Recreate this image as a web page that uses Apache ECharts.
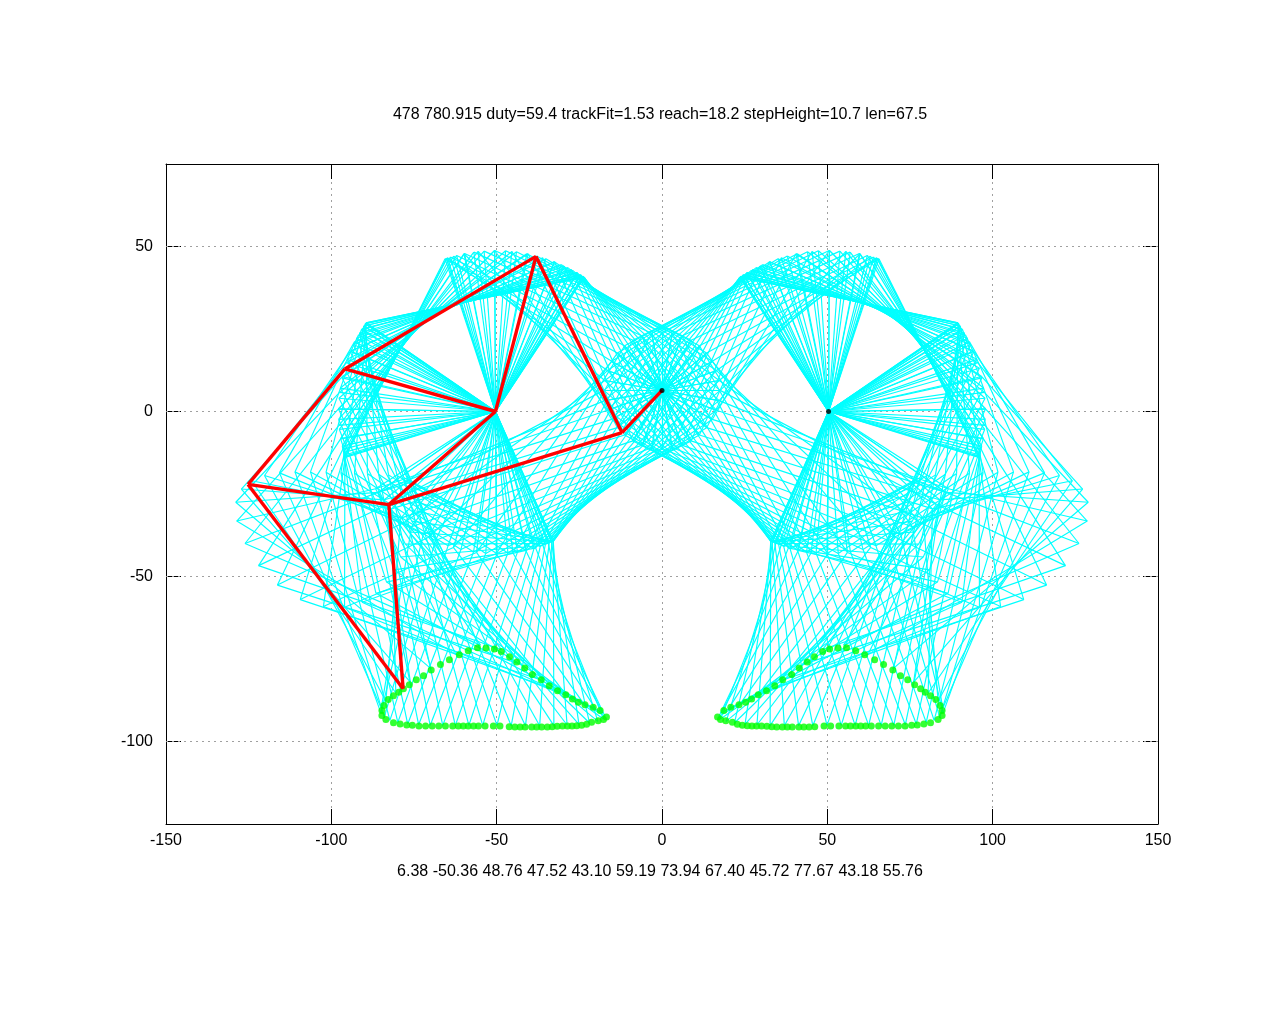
<!DOCTYPE html>
<html>
<head>
<meta charset="utf-8">
<style>html,body{margin:0;padding:0;background:#fff}#c{width:1280px;height:1024px}</style>
<script src="https://cdn.jsdelivr.net/npm/echarts@6/dist/echarts.min.js"></script>
</head>
<body>
<div id="c"></div>
<script>
const titleText = "478 780.915 duty=59.4 trackFit=1.53 reach=18.2 stepHeight=10.7 len=67.5";
const xLabelText = "6.38 -50.36 48.76 47.52 43.10 59.19 73.94 67.40 45.72 77.67 43.18 55.76";
const xTicks = [-150,-100,-50,0,50,100,150];
const yTicks = [-100,-50,0,50];

const crankCentre = [0,6.38];
const pivot = [-50.36,0];

const Ax = [17.6,17.3,16.5,15.2,13.5,11.3,8.8,6.0,3.1,0,-3.1,-6.0,-8.8,-11.3,-13.5,-15.2,-16.5,-17.3,-17.6,-17.3,-16.5,-15.2,-13.5,-11.3,-8.8,-6.0,-3.1,0,3.1,6.0,8.8,11.3,13.5,15.2,16.5,17.3];
const Ay = [6.4,9.4,12.4,15.2,17.7,19.9,21.6,22.9,23.7,24.0,23.7,22.9,21.6,19.9,17.7,15.2,12.4,9.4,6.4,3.3,0.4,-2.4,-4.9,-7.1,-8.9,-10.2,-11.0,-11.2,-11.0,-10.2,-8.9,-7.1,-4.9,-2.4,0.4,3.3];
const Bx = [-28.5,-30.4,-32.6,-35.1,-37.9,-40.9,-44.0,-47.3,-50.6,-53.8,-56.9,-59.7,-62.1,-64.0,-65.2,-65.6,-64.9,-63.0,-59.9,-55.6,-50.6,-45.4,-40.5,-36.1,-32.5,-29.6,-27.4,-25.7,-24.6,-23.9,-23.5,-23.6,-23.9,-24.6,-25.6,-26.9];
const By = [43.6,44.5,45.4,46.3,47.1,47.8,48.4,48.7,48.8,48.6,48.3,47.9,47.3,46.8,46.4,46.3,46.6,47.1,47.8,48.5,48.8,48.5,47.8,46.6,45.4,44.1,43.0,42.1,41.4,40.9,40.7,40.7,41.0,41.4,42.0,42.7];
const Cx = [-92.4,-93.3,-94.3,-95.2,-96.0,-96.8,-97.3,-97.7,-97.9,-97.8,-97.6,-97.2,-96.7,-96.2,-95.9,-95.8,-96.0,-96.5,-97.2,-97.7,-97.9,-97.5,-96.7,-95.5,-94.2,-93.0,-91.8,-90.9,-90.2,-89.7,-89.5,-89.5,-89.8,-90.2,-90.8,-91.5];
const Cy = [22.2,20.3,18.2,15.8,13.1,10.2,7.1,4.0,0.8,-2.4,-5.4,-8.2,-10.5,-12.4,-13.6,-13.9,-13.2,-11.4,-8.3,-4.2,0.7,5.8,10.6,14.8,18.3,21.1,23.2,24.8,25.9,26.6,26.9,26.9,26.6,25.9,25.0,23.8];
const Dx = [-38.7,-36.8,-35.3,-34.1,-33.3,-32.9,-32.9,-33.4,-34.4,-36.0,-38.2,-41.2,-45.1,-50.1,-56.1,-63.1,-70.6,-77.6,-83.0,-85.9,-86.6,-85.8,-84.1,-81.8,-79.0,-75.7,-72.2,-68.5,-64.7,-60.8,-57.0,-53.3,-49.9,-46.6,-43.7,-41.0];
const Dy = [-41.5,-40.9,-40.4,-39.9,-39.6,-39.4,-39.4,-39.6,-40.0,-40.6,-41.4,-42.1,-42.8,-43.1,-42.7,-41.2,-38.1,-33.4,-28.2,-24.5,-23.4,-24.5,-26.8,-29.5,-32.3,-34.9,-37.2,-39.1,-40.7,-41.8,-42.6,-43.0,-43.1,-42.9,-42.6,-42.1];
const Ex = [-76.6,-75.5,-74.9,-74.6,-74.7,-75.1,-75.7,-76.5,-77.6,-79.0,-80.9,-83.3,-86.5,-90.7,-96.0,-102.4,-109.4,-116.3,-122.0,-126.1,-128.6,-128.9,-127.2,-124.1,-120.2,-115.7,-111.0,-106.3,-101.6,-97.1,-93.0,-89.1,-85.7,-82.7,-80.1,-78.1];
const Ey = [-20.7,-21.8,-23.2,-25.0,-27.3,-30.0,-33.2,-36.5,-40.2,-44.1,-48.0,-51.7,-55.1,-57.8,-59.3,-59.1,-57.0,-52.6,-46.7,-40.0,-33.2,-27.5,-23.5,-21.0,-19.4,-18.6,-18.3,-18.3,-18.4,-18.5,-18.7,-18.8,-19.0,-19.2,-19.4,-20.0];
const Fx = [-54.2,-49.9,-45.6,-41.3,-37.0,-32.7,-28.7,-25.1,-21.9,-19.4,-17.7,-17.2,-17.8,-20.1,-23.9,-29.3,-35.8,-42.4,-48.6,-54.9,-62.3,-69.8,-76.1,-80.5,-83.5,-84.9,-85.0,-84.0,-82.3,-79.9,-76.9,-73.6,-70.1,-66.3,-62.5,-58.4];
const Fy = [-95.1,-95.1,-95.2,-95.2,-95.2,-95.2,-95.0,-94.8,-94.4,-93.9,-93.2,-92.4,-91.4,-90.1,-88.2,-85.5,-81.6,-76.7,-72.1,-70.8,-73.6,-78.0,-82.0,-85.3,-87.8,-89.9,-91.4,-92.7,-93.6,-94.2,-94.7,-94.9,-95.1,-95.1,-95.1,-95.1];

const footX = [-16.8,-18.7,-20.8,-23.3,-25.3,-27.1,-29.1,-31.6,-34.1,-36.5,-39.2,-41.5,-43.9,-46.1,-48.6,-50.7,-53.2,-55.8,-58.6,-61.3,-64.3,-67.0,-69.8,-72.1,-74.3,-76.4,-78.2,-79.6,-81.2,-82.8,-84.1,-84.7,-84.7,-83.5,-81.2,-79.2,-77.2,-75.5,-73.5,-71.5,-69.5,-67.5,-65.5,-63.3,-61.6,-60.1,-58.6,-57.0,-55.5,-53.5,-51.0,-49.0,-46.2,-44.5,-42.9,-41.4,-39.4,-37.9,-36.4,-34.7,-33.2,-31.7,-30.1,-28.6,-27.2,-25.8,-24.3,-22.8,-21.3,-19.3,-17.7];
const footY = [-92.6,-90.6,-89.6,-88.9,-88.1,-87.1,-85.8,-84.6,-83.1,-81.3,-79.7,-77.7,-75.9,-74.3,-72.7,-72.0,-71.7,-71.6,-72.5,-73.7,-75.2,-76.7,-78.3,-80.1,-81.3,-82.8,-84.0,-85.1,-86.1,-87.3,-89.1,-90.6,-92.1,-93.3,-94.3,-94.7,-95.0,-95.1,-95.3,-95.3,-95.3,-95.3,-95.3,-95.3,-95.3,-95.3,-95.3,-95.3,-95.3,-95.3,-95.3,-95.3,-95.5,-95.6,-95.6,-95.6,-95.6,-95.6,-95.6,-95.6,-95.5,-95.4,-95.3,-95.3,-95.3,-95.2,-95.1,-94.8,-94.2,-93.7,-93.3];

const redA = [-12.1,-6.4], redB = [-38.1,47.0], redC = [-95.9,12.9], redD = [-82.6,-28.2], redE = [-125.2,-22.1], redF = [-78.3,-84.0];

function legLinks(A,B,C,D,E,F,O,P){
  return [[O,A],[A,B],[A,D],[P,B],[P,C],[P,D],[B,C],[C,E],[D,E],[D,F],[E,F]];
}
const cyanLines = [];
for (let i = 0; i < Ax.length; i++) {
  const pts = [[Ax[i],Ay[i]],[Bx[i],By[i]],[Cx[i],Cy[i]],[Dx[i],Dy[i]],[Ex[i],Ey[i]],[Fx[i],Fy[i]]];
  legLinks(...pts, crankCentre, pivot).forEach(l => cyanLines.push({coords:l}));
  const mir = p => [-p[0],p[1]];
  legLinks(...pts.map(mir), crankCentre, mir(pivot)).forEach(l => cyanLines.push({coords:l}));
}
const redLines = legLinks(redA,redB,redC,redD,redE,redF,crankCentre,pivot).map(l => ({coords:l}));
const footDots = [];
footX.forEach((x,i) => { footDots.push([x,footY[i]]); footDots.push([-x,footY[i]]); });
const gridY = yTicks.map(v => ({coords:[[-150,v],[150,v]]}));

const font = {fontFamily:'"Liberation Sans"',fontSize:16,color:'#000'};
const chart = echarts.init(document.getElementById('c'),null,{renderer:'canvas',width:1280,height:1024});
const axisLine = {show:true,onZero:false,lineStyle:{color:'#000',width:1}};
const dotted = {color:'#a0a0a0',width:1,type:[2,4]};
const tick = {show:true,inside:true,length:15,lineStyle:{color:'#000'}};
chart.setOption({
  animation:false,
  backgroundColor:'#fff',
  title:[
    {text:titleText,left:655,top:102,textAlign:'center',textStyle:{...font,fontWeight:'normal'}},
    {text:xLabelText,left:655,top:859,textAlign:'center',textStyle:{...font,fontWeight:'normal'}}
  ],
  grid:{left:166,top:164,width:992,height:660,containLabel:false,show:false},
  xAxis:[
    {type:'value',min:-150,max:150,interval:50,position:'bottom',axisLine,axisTick:tick,
     axisLabel:{...font,margin:9},splitLine:{show:true,lineStyle:dotted}},
    {type:'value',min:-150,max:150,interval:50,position:'top',axisLine,axisTick:tick,
     axisLabel:{show:false},splitLine:{show:false}}
  ],
  yAxis:[
    {type:'value',min:-125,max:75,interval:25,position:'left',axisLine,
     axisTick:{...tick,customValues:yTicks},
     axisLabel:{...font,margin:13,customValues:yTicks},splitLine:{show:false}},
    {type:'value',min:-125,max:75,interval:25,position:'right',axisLine,
     axisTick:{...tick,customValues:yTicks},
     axisLabel:{show:false},splitLine:{show:false}}
  ],
  series:[
    {type:'lines',coordinateSystem:'cartesian2d',polyline:false,silent:true,z:1,
     lineStyle:{color:'#a0a0a0',width:1,type:[2,4],opacity:1},data:gridY},
    {type:'lines',coordinateSystem:'cartesian2d',polyline:false,silent:true,z:2,
     lineStyle:{color:'#00ffff',width:1.15,opacity:1},data:cyanLines},
    {type:'scatter',coordinateSystem:'cartesian2d',silent:true,z:3,symbol:'circle',symbolSize:7,
     itemStyle:{color:'#00ff00'},data:footDots},
    {type:'lines',coordinateSystem:'cartesian2d',polyline:false,silent:true,z:4,
     lineStyle:{color:'#ff0000',width:3.4,opacity:1},data:redLines},
    {type:'scatter',coordinateSystem:'cartesian2d',silent:true,z:5,symbol:'circle',symbolSize:5,
     itemStyle:{color:'#000'},data:[crankCentre,[-pivot[0],pivot[1]]]}
  ]
});
</script>
</body>
</html>
